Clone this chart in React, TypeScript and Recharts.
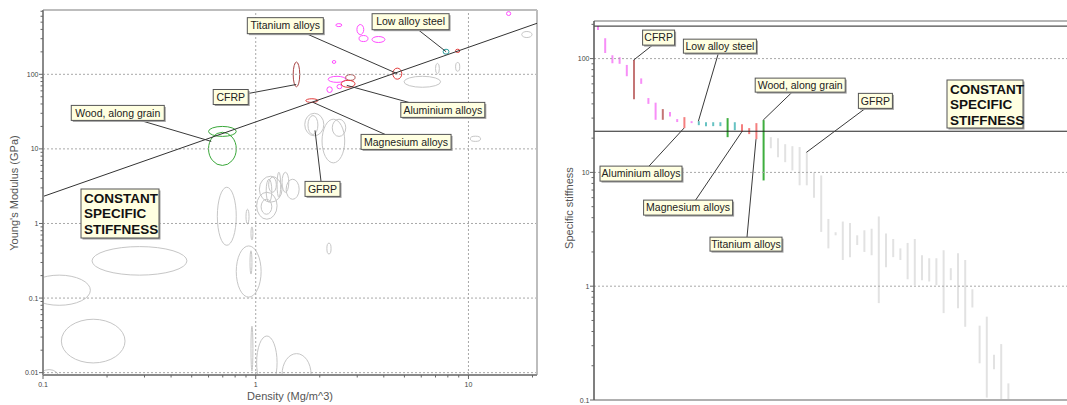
import React from "react";
import {
  ComposedChart,
  Line,
  Bar,
  Cell,
  XAxis,
  YAxis,
  ReferenceArea,
  ReferenceLine,
  ReferenceDot,
} from "recharts";

const FONT = '"Liberation Sans", Arial, sans-serif';

// ---------- Left chart: Young's modulus vs density (bubbles) ----------
// each bubble: [density lo, density hi, modulus lo, modulus hi]
type Bubble = [number, number, number, number];

const otherMetals: Bubble[] = [
  [2.38, 2.54, 436, 478],
  [2.99, 3.22, 341, 465],
  [3.06, 3.37, 275, 331],
  [3.52, 4.05, 267, 321],
  [2.29, 2.38, 140, 153],
  [2.19, 2.65, 78, 94],
  [2.16, 2.29, 57, 68],
  [2.41, 2.54, 64, 73],
  [15.1, 15.8, 614, 693],
];

const lightAlloys: Bubble[] = [
  [2.52, 2.93, 67, 83], // aluminium
  [1.72, 1.96, 42, 47], // magnesium
  [4.41, 4.86, 86, 121], // titanium
  [8.7, 9.1, 196, 217],
];

const carbonComposites: Bubble[] = [
  [1.5, 1.61, 68, 146], // CFRP
  [2.65, 2.93, 83, 99],
];

const steels: Bubble[] = [[7.6, 8.1, 186, 217]];

const woods: Bubble[] = [
  [0.6, 0.81, 14.7, 20],
  [0.6, 0.81, 6.0, 16.7],
];

const otherMaterials: Bubble[] = [
  [0.66, 0.81, 0.51, 3.06],
  [0.9, 0.93, 0.99, 1.55],
  [0.95, 0.97, 0.6, 0.9],
  [1.04, 1.33, 1.93, 4.3],
  [1.01, 1.26, 1.14, 2.62],
  [1.26, 1.31, 2.25, 4.86],
  [1.33, 1.43, 2.62, 4.86],
  [1.39, 1.6, 2.11, 3.92],
  [1.12, 1.19, 1.93, 3.92],
  [1.15, 1.25, 2.62, 4.17],
  [1.06, 1.19, 1.33, 2.11],
  [0.17, 0.475, 0.203, 0.49],
  [0.085, 0.167, 0.08, 0.203],
  [0.122, 0.243, 0.0135, 0.052],
  [0.095, 0.12, 0.006, 0.011],
  [0.81, 1.06, 0.103, 0.5],
  [0.94, 0.96, 0.21, 0.43],
  [0.95, 0.97, 0.0105, 0.042],
  [1.01, 1.26, 0.006, 0.031],
  [1.33, 1.82, 0.005, 0.018],
  [2.16, 2.26, 0.39, 0.545],
  [1.7, 2.09, 15, 30], // GFRP
  [1.76, 1.96, 15.6, 28],
  [2.05, 2.62, 6.5, 25],
  [2.29, 2.65, 14.7, 25],
  [7.0, 7.3, 102, 140],
  [8.7, 9.1, 110, 144],
  [4.98, 7.4, 67, 94],
  [17.8, 19.9, 311, 375],
  [10.2, 11.4, 12.6, 14.8],
];

const bubbleGroups = [
  { color: "#c6c6c6", items: otherMaterials },
  { color: "#ff4dff", items: otherMetals },
  { color: "#a84444", items: carbonComposites },
  { color: "#e23b3b", items: lightAlloys },
  { color: "#2b9e9e", items: steels },
  { color: "#3aa83a", items: woods },
];

const SPECIFIC_STIFFNESS = 23;
const DENSITY_DOMAIN = [0.1, 21];
const MODULUS_DOMAIN = [0.0093, 728];
const densityLabels = [0.1, 1, 10];
const modulusLabels = [0.01, 0.1, 1, 10, 100];

const constantLine = [DENSITY_DOMAIN[0], DENSITY_DOMAIN[1]].map((rho) => ({
  rho,
  E: rho * SPECIFIC_STIFFNESS,
}));

// ---------- Right chart: specific stiffness ranges ----------
const stiffHigh = [
  193, 151, 107, 103, 88, 97, 67, 45, 41, 36, 34, 29.4, 30.6, 28.2, 28.2, 27.6,
  27.6, 27.6, 30, 27.6, 26.5, 24.5, 27.1, 28.8, 20.4, 20, 17.7, 17, 16.7, 15,
  10, 9.4, 3.9, 2.98, 3.7, 3.6, 2.8, 3.1, 3.2, 4.1, 2.9, 2.6, 2.15, 2.4, 2.6,
  1.87, 1.76, 1.76, 2.07, 1.44, 1.95, 1.7, 0.94, 0.45, 0.54, 0.25, 0.31, 0.14,
];
const stiffLow = [
  178, 112, 91, 90, 70, 44, 60, 40, 29, 29, 31, 27.7, 24.5, 27.1, 26, 25.5,
  25.5, 25.5, 20.4, 23.5, 22.6, 21.7, 19.6, 8.5, 16.3, 13.6, 12.3, 10.4, 7.7,
  7.7, 6.0, 3.0, 2.15, 2.8, 1.7, 1.8, 2.3, 2.0, 1.87, 0.71, 1.47, 1.8, 1.7,
  1.15, 1.02, 1.13, 1.1, 1.02, 0.58, 1.13, 0.64, 0.44, 0.65, 0.21, 0.105,
  0.186, 0.1, 0.1,
];
// p: other metals, b: carbon composites, r: light alloys, t: steels, g: wood, x: other
const barGroup = (
  "pppppbpppbpprpttttgtrrrg" + "x".repeat(34)
).split("");
const barIds = stiffHigh.map((_, i) => `m${i + 1}`);

const BAR_FILL: Record<string, string> = {
  p: "#f78ef7",
  b: "#c47575",
  r: "#f47f7f",
  t: "#66c2c2",
  g: "#3fae3f",
  x: "#e2e2e2",
};

const STIFF_DOMAIN = [0.1, 214];
const stiffLabels = [0.1, 1, 10, 100];
const selectionBand = [23, 193];

const barRows = barIds.map((id, i) => ({
  id,
  range: [stiffLow[i], stiffHigh[i]],
  group: barGroup[i],
}));

// ---------- helpers ----------
const logTicks = (lo: number, hi: number) => {
  const out: number[] = [];
  for (let d = Math.floor(Math.log10(lo)); d <= Math.ceil(Math.log10(hi)); d++) {
    for (let m = 1; m <= 9; m++) {
      const v = parseFloat((m * Math.pow(10, d)).toPrecision(3));
      if (v >= lo * 0.999 && v <= hi * 1.001) out.push(v);
    }
  }
  return out;
};

const isDecade = (v: number) =>
  Math.abs(Math.log10(v) - Math.round(Math.log10(v))) < 1e-6;

const BottomTick = (props: any) => {
  const { x, y, payload } = props;
  const major = isDecade(payload.value);
  return (
    <g>
      <line x1={x} x2={x} y1={y} y2={y + (major ? 4 : 2.5)} stroke="#666" />
      {major && (
        <text x={x} y={y + 12} textAnchor="middle" fontSize={7} fill="#444" fontFamily={FONT}>
          {payload.value}
        </text>
      )}
    </g>
  );
};

const LeftTick = (props: any) => {
  const { x, y, payload } = props;
  const major = isDecade(payload.value);
  return (
    <g>
      <line x1={x} x2={x - (major ? 4 : 2.5)} y1={y} y2={y} stroke="#666" />
      {major && (
        <text x={x - 4.5} y={y + 2.5} textAnchor="end" fontSize={7} fill="#444" fontFamily={FONT}>
          {payload.value}
        </text>
      )}
    </g>
  );
};

const ellipseShape = (color: string) => (p: any) => {
  const { x, y, width, height, clipPath } = p;
  if (x == null || width == null) return <g />;
  return (
    <ellipse
      cx={x + width / 2}
      cy={y + height / 2}
      rx={Math.abs(width) / 2}
      ry={Math.abs(height) / 2}
      fill="none"
      stroke={color}
      strokeWidth={1}
      clipPath={clipPath}
    />
  );
};

type Callout = {
  text: string;
  x: number | string;
  y: number;
  dx: number; // box left offset from target (px)
  dy: number; // box top offset from target (px)
  w: number;
  h: number;
  ax: number; // leader start inside box
  ay: number;
};

const calloutShape = (c: Callout) => (p: any) => {
  const { cx, cy } = p;
  const bx = cx + c.dx;
  const by = cy + c.dy;
  return (
    <g>
      <line x1={bx + c.ax} y1={by + c.ay} x2={cx} y2={cy} stroke="#3a3a3a" strokeWidth={1} />
      <rect x={bx + 1.5} y={by + 1.5} width={c.w} height={c.h} fill="#a0a0a0" />
      <rect x={bx} y={by} width={c.w} height={c.h} fill="#ffffe1" stroke="#555" />
      <text
        x={bx + c.w / 2}
        y={by + c.h / 2 + 3.8}
        textAnchor="middle"
        fontSize={10.5}
        fill="#222"
        fontFamily={FONT}
      >
        {c.text}
      </text>
    </g>
  );
};

const ashbyCallouts: Callout[] = [
  { text: "Titanium alloys", x: 4.63, y: 102, dx: -150, dy: -56, w: 76, h: 16, ax: 59, ay: 16 },
  { text: "Low alloy steel", x: 7.85, y: 201, dx: -74, dy: -38, w: 77, h: 16, ax: 46, ay: 16 },
  { text: "CFRP", x: 1.55, y: 73, dx: -83, dy: 5, w: 35, h: 15, ax: 35, ay: 4 },
  { text: "Wood, along grain", x: 0.618, y: 12.6, dx: -140, dy: -36, w: 93, h: 15, ax: 69, ay: 15 },
  { text: "Aluminium alloys", x: 2.68, y: 71, dx: 54, dy: 17, w: 84, h: 15, ax: 8, ay: 0 },
  { text: "Magnesium alloys", x: 1.86, y: 42, dx: 48, dy: 32, w: 90, h: 15, ax: 24, ay: 0 },
  { text: "GFRP", x: 1.9, y: 17.7, dx: -10, dy: 51, w: 35, h: 15, ax: 16, ay: 0 },
];

const stiffCallouts: Callout[] = [
  { text: "CFRP", x: barIds[5], y: stiffHigh[5], dx: 9, dy: -30, w: 32, h: 15, ax: 10, ay: 15 },
  { text: "Low alloy steel", x: barIds[14], y: stiffHigh[14], dx: -15, dy: -82, w: 73, h: 14, ax: 35, ay: 14 },
  { text: "Wood, along grain", x: barIds[23], y: stiffHigh[23], dx: -8, dy: -42, w: 90, h: 14, ax: 37, ay: 14 },
  { text: "GFRP", x: barIds[29], y: stiffHigh[29], dx: 52, dy: -59, w: 34, h: 15, ax: 7, ay: 15 },
  { text: "Aluminium alloys", x: barIds[12], y: stiffLow[12], dx: -84, dy: 38, w: 82, h: 15, ax: 49, ay: 0 },
  { text: "Magnesium alloys", x: barIds[20], y: stiffLow[20], dx: -98, dy: 68, w: 89, h: 15, ax: 52, ay: 0 },
  { text: "Titanium alloys", x: barIds[22], y: stiffLow[22], dx: -46, dy: 98, w: 72, h: 14, ax: 37, ay: 0 },
];

const gridProps = { stroke: "#a8a8a8", strokeDasharray: "2 2", ifOverflow: "visible" as const };

function AshbyChart() {
  return (
    <ComposedChart
      width={545}
      height={405}
      data={constantLine}
      margin={{ top: 10, right: 8, bottom: 0, left: 0 }}
    >
      <XAxis
        dataKey="rho"
        type="number"
        scale="log"
        domain={DENSITY_DOMAIN}
        allowDataOverflow
        ticks={logTicks(DENSITY_DOMAIN[0], DENSITY_DOMAIN[1])}
        interval={0}
        tickSize={0}
        tickMargin={0}
        tick={BottomTick}
        axisLine={{ stroke: "#8a8a8a", strokeWidth: 2 }}
        height={30}
      />
      <YAxis
        type="number"
        scale="log"
        domain={MODULUS_DOMAIN}
        allowDataOverflow
        ticks={logTicks(MODULUS_DOMAIN[0], MODULUS_DOMAIN[1])}
        interval={0}
        tickSize={0}
        tickMargin={0}
        tick={LeftTick}
        axisLine={{ stroke: "#8a8a8a", strokeWidth: 2 }}
        width={43}
      />
      {modulusLabels.map((v) => (
        <ReferenceLine key={`gy${v}`} y={v} {...gridProps} />
      ))}
      {densityLabels.map((v) => (
        <ReferenceLine key={`gx${v}`} x={v} {...gridProps} />
      ))}
      <ReferenceLine y={MODULUS_DOMAIN[1]} stroke="#bdbdbd" strokeWidth={2} ifOverflow="visible" />
      <ReferenceLine x={DENSITY_DOMAIN[1]} stroke="#bdbdbd" strokeWidth={2} ifOverflow="visible" />
      {bubbleGroups.map((g, gi) =>
        g.items.map((b, i) => (
          <ReferenceArea
            key={`b${gi}-${i}`}
            x1={b[0]}
            x2={b[1]}
            y1={b[2]}
            y2={b[3]}
            ifOverflow="hidden"
            shape={ellipseShape(g.color)}
          />
        ))
      )}
      <Line
        dataKey="E"
        stroke="#333"
        strokeWidth={1}
        dot={false}
        activeDot={false}
        isAnimationActive={false}
      />
      {ashbyCallouts.map((c) => (
        <ReferenceDot key={c.text} x={c.x} y={c.y} r={0} ifOverflow="visible" shape={calloutShape(c)} />
      ))}
    </ComposedChart>
  );
}

function StiffnessChart() {
  return (
    <ComposedChart
      width={540}
      height={405}
      data={barRows}
      margin={{ top: 21, right: 0, bottom: 1, left: 4 }}
    >
      <XAxis
        dataKey="id"
        type="category"
        tick={false}
        tickLine={false}
        axisLine={{ stroke: "#b0b0b0", strokeWidth: 2 }}
        height={4}
        padding={{ left: 0, right: 68.4 }}
      />
      <YAxis
        type="number"
        scale="log"
        domain={STIFF_DOMAIN}
        allowDataOverflow
        ticks={logTicks(STIFF_DOMAIN[0], STIFF_DOMAIN[1])}
        interval={0}
        tickSize={0}
        tickMargin={0}
        tick={LeftTick}
        axisLine={{ stroke: "#555", strokeWidth: 1.5 }}
        width={50}
      />
      {stiffLabels.map((v) => (
        <ReferenceLine key={`sy${v}`} y={v} {...gridProps} />
      ))}
      <ReferenceLine y={STIFF_DOMAIN[1]} stroke="#b5b5b5" strokeWidth={2} ifOverflow="visible" />
      {selectionBand.map((v) => (
        <ReferenceLine key={`band${v}`} y={v} stroke="#222" strokeWidth={1} />
      ))}
      <Bar dataKey="range" barSize={2} isAnimationActive={false}>
        {barRows.map((r) => (
          <Cell key={r.id} fill={BAR_FILL[r.group]} />
        ))}
      </Bar>
      {stiffCallouts.map((c) => (
        <ReferenceDot key={c.text} x={c.x} y={c.y} r={0} ifOverflow="visible" shape={calloutShape(c)} />
      ))}
    </ComposedChart>
  );
}

const NoteBox = ({ x, y, w, h }: { x: number; y: number; w: number; h: number }) => (
  <g>
    <rect x={x + 1.5} y={y + 1.5} width={w} height={h} fill="#a0a0a0" />
    <rect x={x} y={y} width={w} height={h} fill="#ffffe1" stroke="#555" />
    {["CONSTANT", "SPECIFIC", "STIFFNESS"].map((t, i) => (
      <text key={t} x={x + 3} y={y + 14 + i * 15.3} fontSize={13.5} fontWeight="bold" fill="#111" fontFamily={FONT}>
        {t}
      </text>
    ))}
  </g>
);

export default function App() {
  return (
    <div
      style={{
        position: "absolute",
        left: 0,
        top: 0,
        width: 1067,
        height: 405,
        overflow: "hidden",
        background: "#fff",
        fontFamily: FONT,
      }}
    >
      <div style={{ position: "absolute", left: 0, top: 0 }}>
        <AshbyChart />
      </div>
      <div style={{ position: "absolute", left: 540, top: 0 }}>
        <StiffnessChart />
      </div>
      <svg
        width={1067}
        height={405}
        style={{ position: "absolute", left: 0, top: 0, pointerEvents: "none" }}
      >
        <text x={15} y={193} transform="rotate(-90 15 193)" textAnchor="middle" dominantBaseline="middle" fontSize={11} fill="#555" fontFamily={FONT}>
          Young's Modulus (GPa)
        </text>
        <text x={290} y={400} textAnchor="middle" fontSize={11} fill="#555" fontFamily={FONT}>
          Density (Mg/m^3)
        </text>
        <text x={570} y={208} transform="rotate(-90 570 208)" textAnchor="middle" dominantBaseline="middle" fontSize={11} fill="#555" fontFamily={FONT}>
          Specific stiffness
        </text>
        <NoteBox x={81} y={189} w={78} h={49} />
        <NoteBox x={947} y={80} w={76} h={48} />
      </svg>
    </div>
  );
}
